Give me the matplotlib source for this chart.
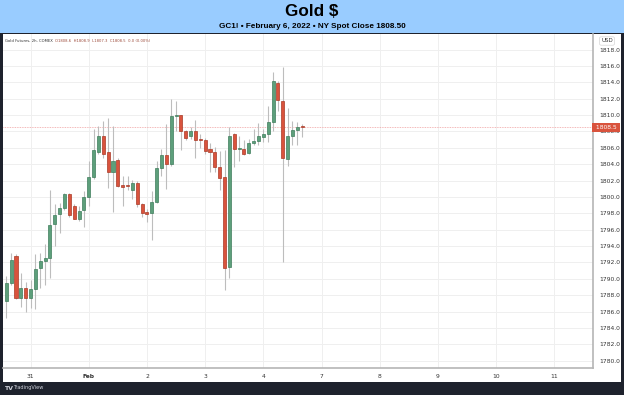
import matplotlib
matplotlib.use("Agg")
import matplotlib.pyplot as plt
from matplotlib.patches import Rectangle
import numpy as np

# 2h candles, Gold futures (GC1!)
opens = [1787.3, 1789.5, 1792.8, 1787.7, 1788.9, 1787.6, 1788.7, 1791.3, 1792.2, 1792.5,
         1796.7, 1797.9, 1798.6, 1800.4, 1798.9, 1797.35, 1798.4, 1800.0, 1802.4, 1805.5,
         1807.45, 1805.5, 1803.0, 1804.5, 1801.4, 1801.5, 1800.8, 1801.7, 1799.1, 1798.1,
         1798.0, 1799.35, 1803.5, 1805.1, 1804.0, 1809.9, 1810.0, 1808.1, 1807.4, 1808.1,
         1807.0, 1807.0, 1805.8, 1805.5, 1803.6, 1802.45, 1791.4, 1807.65, 1805.8, 1805.9,
         1805.4, 1806.55, 1806.8, 1807.3, 1807.65, 1809.2, 1813.9, 1811.75, 1804.6, 1807.5,
         1808.2, 1808.6]
highs = [1790.3, 1793.1, 1793.0, 1790.7, 1789.6, 1789.8, 1793.0, 1793.1, 1794.3, 1800.9,
         1799.1, 1799.2, 1800.5, 1800.5, 1799.1, 1798.9, 1800.7, 1804.4, 1808.3, 1808.7,
         1809.3, 1809.7, 1808.7, 1804.8, 1802.6, 1802.6, 1802.1, 1802.0, 1799.3, 1798.5,
         1800.7, 1804.4, 1805.9, 1808.9, 1812.0, 1811.7, 1810.0, 1808.2, 1808.5, 1809.4,
         1807.65, 1807.2, 1806.6, 1806.1, 1805.6, 1805.7, 1808.5, 1807.8, 1807.4, 1807.0,
         1807.1, 1808.3, 1809.0, 1808.3, 1811.05, 1815.3, 1814.2, 1815.85, 1810.8, 1809.3,
         1809.2, 1808.9]
lows = [1785.2, 1789.3, 1787.5, 1786.6, 1785.9, 1786.4, 1786.3, 1788.9, 1789.3, 1790.1,
        1794.0, 1795.6, 1798.4, 1797.6, 1797.3, 1797.0, 1796.3, 1798.9, 1802.2, 1805.3,
        1804.8, 1801.1, 1798.1, 1801.2, 1798.9, 1800.9, 1799.8, 1798.8, 1797.6, 1796.9,
        1794.7, 1799.2, 1802.5, 1801.0, 1803.8, 1808.1, 1805.7, 1807.0, 1807.1, 1804.8,
        1806.0, 1805.3, 1803.0, 1803.0, 1800.9, 1788.6, 1790.1, 1803.7, 1804.4, 1805.1,
        1805.3, 1806.4, 1806.4, 1806.7, 1806.7, 1808.1, 1810.5, 1792.1, 1803.8, 1806.3,
        1806.4, 1807.3]
closes = [1789.5, 1792.3, 1787.7, 1788.9, 1787.7, 1788.7, 1791.2, 1792.2, 1792.5, 1796.6,
          1797.8, 1798.6, 1800.4, 1797.75, 1797.35, 1798.3, 1800.0, 1802.4, 1805.7, 1807.45,
          1805.3, 1803.0, 1804.4, 1801.3, 1801.2, 1801.3, 1801.7, 1799.1, 1798.0, 1797.95,
          1799.35, 1803.5, 1805.1, 1804.0, 1809.9, 1810.0, 1808.1, 1807.25, 1808.0, 1807.0,
          1806.9, 1805.6, 1805.5, 1803.7, 1802.3, 1791.3, 1807.5, 1805.9, 1806.0, 1805.2,
          1806.55, 1806.8, 1807.4, 1807.65, 1809.2, 1814.1, 1811.85, 1804.7, 1807.5, 1808.15,
          1808.55, 1808.5]

day_bar_index = [5, 17, 29, 41, 53, 65, 77, 89, 101, 113]
day_labels = ["31", "Feb", "2", "3", "4", "7", "8", "9", "10", "11"]
price_ticks = list(range(1780, 1820, 2))
last_price = 1808.5

W, H = 624, 395
fig = plt.figure(figsize=(W / 100, H / 100), dpi=100, facecolor="#1e222d")

# title band and white chart panel (behind the axes)
fig.patches.append(Rectangle((0, 1 - 33 / H), 1, 33 / H, transform=fig.transFigure,
                             facecolor="#99ccff", edgecolor="none", zorder=-2))
fig.patches.append(Rectangle((3 / W, 13 / H), 618 / W, (382 - 34) / H, transform=fig.transFigure,
                             facecolor="white", edgecolor="none", zorder=-2))

fig.text(0.5, 1 - 11 / H, "Gold $", ha="center", va="center", fontsize=12.3,
         fontweight="bold", family="Liberation Sans", color="black")
fig.text(0.5, 1 - 26.5 / H, "GC1! \u2022 February 6, 2022 \u2022 NY Spot Close 1808.50",
         ha="center", va="center", fontsize=5.9, fontweight="bold",
         family="Liberation Sans", color="black")

ax = fig.add_axes([3 / W, (395 - 368) / H, 590 / W, (368 - 34) / H])
ax.set_facecolor("none")
ax.set_zorder(2)

x = np.arange(len(opens))
o = np.array(opens); c = np.array(closes)
up = c >= o
green, green_edge = "#5d9f7b", "#3f7d5c"
red, red_edge = "#d9533d", "#a93a26"

ax.vlines(x, lows, highs, color="#bdbdbd", linewidth=0.8, zorder=2)
body_lo = np.minimum(o, c)
body_h = np.maximum(np.abs(c - o), 0.12)
ax.bar(x[up], body_h[up], bottom=body_lo[up], width=0.62, color=green,
       edgecolor=green_edge, linewidth=0.5, zorder=3)
ax.bar(x[~up], body_h[~up], bottom=body_lo[~up], width=0.62, color=red,
       edgecolor=red_edge, linewidth=0.5, zorder=3)

ax.axhline(last_price, color="#f0a0a0", linewidth=0.6, linestyle=(0, (1, 1)), zorder=1)

ax.set_xlim(-0.68, 120.97)
ax.set_ylim(1779.1, 1819.9)

ax.set_yticks(price_ticks)
ax.set_yticklabels([f"{p:.1f}" for p in price_ticks])
ax.yaxis.tick_right()
ax.set_xticks(day_bar_index)
ax.set_xticklabels(day_labels)
for lbl in ax.get_xticklabels():
    if lbl.get_text() == "Feb":
        lbl.set_fontweight("bold")
ax.tick_params(axis="both", length=0, labelsize=4.3, colors="#333333")
ax.tick_params(axis="y", pad=4.5)
ax.tick_params(axis="x", pad=4)
ax.grid(True, color="#efefef", linewidth=0.7, zorder=0)
ax.set_axisbelow(True)
for side in ["top", "left"]:
    ax.spines[side].set_visible(False)
for side in ["right", "bottom"]:
    ax.spines[side].set_color("#b5b5b5")
    ax.spines[side].set_linewidth(1.2)

# last price tag on the price scale
ax.text(1.0 + 1 / 590, last_price, " 1808.5 ", transform=ax.get_yaxis_transform(), ha="left",
        va="center", fontsize=4.3, color="white", zorder=5, clip_on=False,
        bbox=dict(boxstyle="square,pad=0.3", facecolor="#d9533d", edgecolor="none"))
ax.text(1.0 + 14 / 590, 1 - 7 / 334, "USD", transform=ax.transAxes, ha="center", va="center",
        fontsize=4, color="#333333", clip_on=False,
        bbox=dict(boxstyle="round,pad=0.3", facecolor="white", edgecolor="#cccccc", linewidth=0.4))

# legend line
fig.text(5 / W, 1 - 41 / H, "Gold Futures, 2h, COMEX", ha="left", va="center",
         fontsize=2.7, color="#333333")
fig.text(55 / W, 1 - 41 / H, "O1808.6  H1808.9  L1807.3  C1808.5  0.0 (0.00%)", ha="left",
         va="center", fontsize=2.7, color="#9c4a3a")

fig.text(4 / W, 7 / H, "TV", ha="left", va="center", fontsize=4.5, fontweight="bold", color="#d0d3dc")
fig.text(13 / W, 7 / H, "TradingView", ha="left", va="center", fontsize=3.6, color="#d0d3dc")

fig.savefig("out.png", dpi=100, facecolor=fig.get_facecolor())
